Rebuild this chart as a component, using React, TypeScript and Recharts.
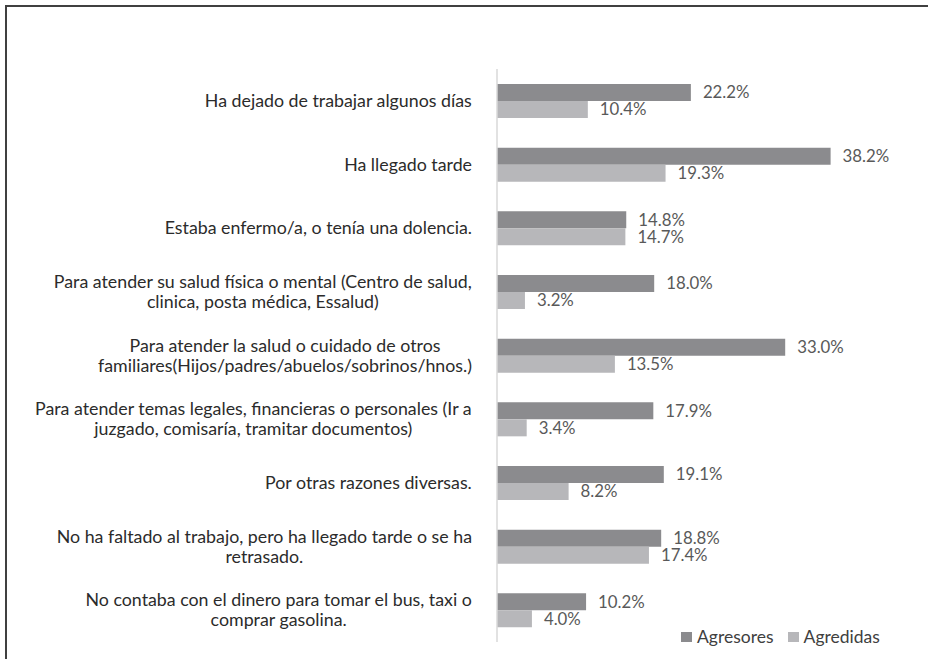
import React from "react";
import { BarChart, Bar, XAxis, YAxis, LabelList } from "recharts";

const categories: string[] = [
  "Ha dejado de trabajar algunos días",
  "Ha llegado tarde",
  "Estaba enfermo/a, o tenía una dolencia.",
  "Para atender su salud física o mental (Centro de salud,|clinica, posta médica, Essalud)",
  "Para atender la salud o cuidado de otros|familiares(Hijos/padres/abuelos/sobrinos/hnos.)",
  "Para atender temas legales, financieras o personales (Ir a|juzgado, comisaría, tramitar documentos)",
  "Por otras razones diversas.",
  "No ha faltado al trabajo, pero ha llegado tarde o se ha|retrasado.",
  "No contaba con el dinero para tomar el bus, taxi o|comprar gasolina.",
];
const agresores: number[] = [22.2, 38.2, 14.8, 18.0, 33.0, 17.9, 19.1, 18.8, 10.2];
const agredidas: number[] = [10.4, 19.3, 14.7, 3.2, 13.5, 3.4, 8.2, 17.4, 4.0];
const seriesNames = ["Agresores", "Agredidas"];

const data = categories.map((c, i) => ({
  name: c,
  Agresores: agresores[i],
  Agredidas: agredidas[i],
}));

const FONT = "Lato, 'Open Sans', sans-serif";
const LABEL_SIZE = 17.8;
const VALUE_SIZE = 16.8;
const DARK = "#8b8b8e";
const LIGHT = "#b7b7ba";

let ctx: CanvasRenderingContext2D | null = null;
function measure(text: string): number {
  if (!ctx) {
    const c = document.createElement("canvas");
    ctx = c.getContext("2d");
  }
  if (!ctx) return text.length * 7.8;
  ctx.font = `${LABEL_SIZE}px Lato`;
  return ctx.measureText(text).width;
}

const CategoryTick = (props: any) => {
  const { x, y, payload } = props;
  const lines: string[] = String(payload.value).split("|");
  const maxW = Math.max(...lines.map(measure));
  const right = x - 17;
  const cx = right - maxW / 2;
  const lh = 20;
  return (
    <g>
      {lines.map((l, i) => (
        <text
          key={i}
          x={cx}
          y={y + (i - (lines.length - 1) / 2) * lh}
          dy="0.35em"
          textAnchor="middle"
          fontFamily={FONT}
          fontSize={LABEL_SIZE}
          fill="#2b2b2b"
        >
          {l}
        </text>
      ))}
    </g>
  );
};

const fmt = (v: any) => `${Number(v).toFixed(1)}%`;

export default function App() {
  return (
    <div style={{ position: "absolute", left: 0, top: 0, width: 928, height: 659, overflow: "hidden", background: "#fff" }}>
      <div
        style={{
          position: "absolute",
          left: 5,
          top: 5,
          width: 940,
          height: 680,
          border: "2px solid #404040",
          boxSizing: "border-box",
        }}
      />
      <div style={{ position: "absolute", left: 0, top: 0 }}>
        <BarChart
          width={928}
          height={659}
          data={data}
          layout="vertical"
          margin={{ top: 69, right: 38, bottom: 17, left: 0 }}
          barGap={0}
          barCategoryGap="23%"
        >
          <XAxis type="number" domain={[0, 45]} hide />
          <YAxis
            type="category"
            dataKey="name"
            width={497}
            axisLine={{ stroke: "#d9d9d9", strokeWidth: 1.5 }}
            tickLine={false}
            tick={<CategoryTick />}
            interval={0}
          />
          <Bar dataKey="Agresores" fill={DARK} barSize={17} isAnimationActive={false}>
            <LabelList dataKey="Agresores" position="right" offset={12} formatter={fmt} fill="#595959" fontSize={VALUE_SIZE} fontFamily={FONT} />
          </Bar>
          <Bar dataKey="Agredidas" fill={LIGHT} barSize={17} isAnimationActive={false}>
            <LabelList dataKey="Agredidas" position="right" offset={12} formatter={fmt} fill="#595959" fontSize={VALUE_SIZE} fontFamily={FONT} />
          </Bar>
        </BarChart>
      </div>
      <div
        style={{
          position: "absolute",
          left: 681,
          top: 626,
          display: "flex",
          alignItems: "center",
          fontFamily: FONT,
          fontSize: 17.5,
          color: "#404040",
          lineHeight: "22px",
        }}
      >
        {seriesNames.map((n, i) => (
          <div key={n} style={{ display: "flex", alignItems: "center", marginRight: i === 0 ? 14 : 0 }}>
            <div style={{ width: 11, height: 10, background: i === 0 ? DARK : LIGHT, marginRight: 5 }} />
            <span>{n}</span>
          </div>
        ))}
      </div>
    </div>
  );
}
